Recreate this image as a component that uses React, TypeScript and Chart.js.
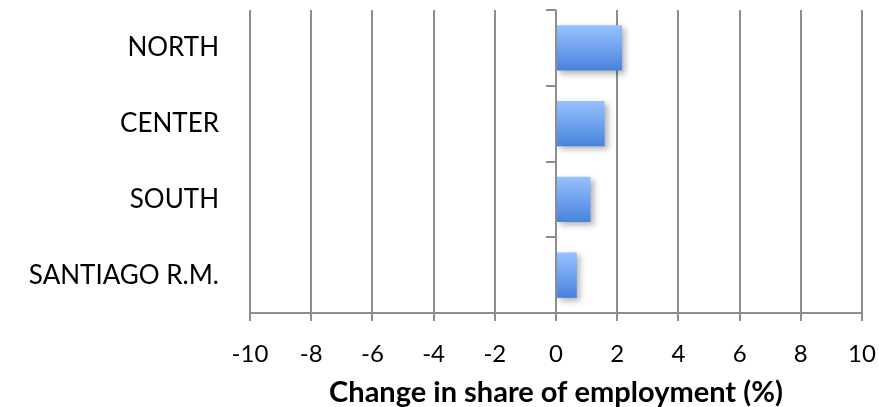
import React, { useEffect, useRef } from "react";
import { Chart, registerables } from "chart.js";

Chart.register(...registerables);

// Regions and the change in their share of employment (percentage points)
const regions = ["NORTH", "CENTER", "SOUTH", "SANTIAGO R.M."];
const shareChange = [2.16, 1.59, 1.13, 0.68];
const axisMin = -10;
const axisMax = 10;
const axisStep = 2;
const axisTitle = "Change in share of employment (%)";

const FONT = "Lato, 'Open Sans', sans-serif";
const GRID = "#8d8d8d";
const BAR_FRACTION = 0.8 * 0.75;

// Soft drop shadow under the bars
const barShadow = {
  id: "barShadow",
  beforeDatasetsDraw(chart: any) {
    const c = chart.ctx;
    c.save();
    c.shadowColor = "rgba(0,0,0,0.3)";
    c.shadowBlur = 6;
    c.shadowOffsetX = 3;
    c.shadowOffsetY = 3;
  },
  afterDatasetsDraw(chart: any) {
    chart.ctx.restore();
  },
};

// Vertical category axis crossing at x = 0, with tick marks at category boundaries
const zeroAxis = {
  id: "zeroAxis",
  afterDraw(chart: any) {
    const x = chart.scales.x;
    const y = chart.scales.y;
    const c = chart.ctx;
    const px = Math.round(x.getPixelForValue(0));
    c.save();
    c.strokeStyle = GRID;
    c.lineWidth = 2;
    c.beginPath();
    c.moveTo(px, y.top);
    c.lineTo(px, y.bottom);
    const n = chart.data.labels.length;
    for (let i = 0; i <= n; i++) {
      const py = Math.round(y.getPixelForValue(i - 0.5));
      c.moveTo(px, py);
      c.lineTo(px - 10, py);
    }
    c.stroke();
    c.restore();
  },
};

export default function App() {
  const ref = useRef<HTMLCanvasElement | null>(null);

  useEffect(() => {
    if (!ref.current) return;
    const chart = new Chart(ref.current, {
      type: "bar",
      data: {
        labels: regions,
        datasets: [
          {
            data: shareChange,
            barPercentage: 0.75,
            categoryPercentage: 0.8,
            borderWidth: 0,
            backgroundColor: (context: any) => {
              const ch = context.chart;
              const y = ch.scales?.y;
              const area = ch.chartArea;
              if (!y || !area) return "#6a9ee8";
              const center = y.getPixelForValue(context.dataIndex);
              const step = (area.bottom - area.top) / regions.length;
              const half = (step * BAR_FRACTION) / 2;
              const g = ch.ctx.createLinearGradient(0, center - half, 0, center + half);
              g.addColorStop(0, "#98c1ff");
              g.addColorStop(1, "#4783db");
              return g;
            },
          },
        ],
      },
      options: {
        indexAxis: "y",
        animation: false,
        responsive: true,
        maintainAspectRatio: false,
        layout: { padding: { top: 10, right: 17, bottom: 0, left: 0 } },
        plugins: {
          legend: { display: false },
          tooltip: { enabled: false },
        },
        scales: {
          x: {
            type: "linear",
            min: axisMin,
            max: axisMax,
            ticks: {
              stepSize: axisStep,
              color: "#000",
              padding: 19,
              font: { family: FONT, size: 24 },
            },
            grid: {
              color: GRID,
              lineWidth: 2,
              tickLength: 8,
              drawTicks: true,
            },
            border: { display: true, color: GRID, width: 2 },
            title: {
              display: true,
              text: axisTitle,
              color: "#000",
              font: { family: FONT, size: 29, weight: "bold", lineHeight: 1 },
              padding: { top: 4, bottom: 0 },
            },
            afterFit: (scale: any) => {
              scale.height = 94;
              scale.paddingLeft = 0;
              scale.paddingRight = 0;
            },
          },
          y: {
            type: "category",
            position: "left",
            grid: { display: false },
            border: { display: false },
            ticks: {
              color: "#000",
              padding: 23,
              font: { family: FONT, size: 26 },
            },
            afterFit: (scale: any) => {
              scale.width = 250;
              scale.paddingTop = 0;
              scale.paddingBottom = 0;
            },
          },
        },
      },
      plugins: [barShadow, zeroAxis],
    } as any);
    return () => chart.destroy();
  }, []);

  return (
    <div style={{ position: "absolute", left: 0, top: 0, width: 879, height: 407 }}>
      <canvas ref={ref} />
    </div>
  );
}
